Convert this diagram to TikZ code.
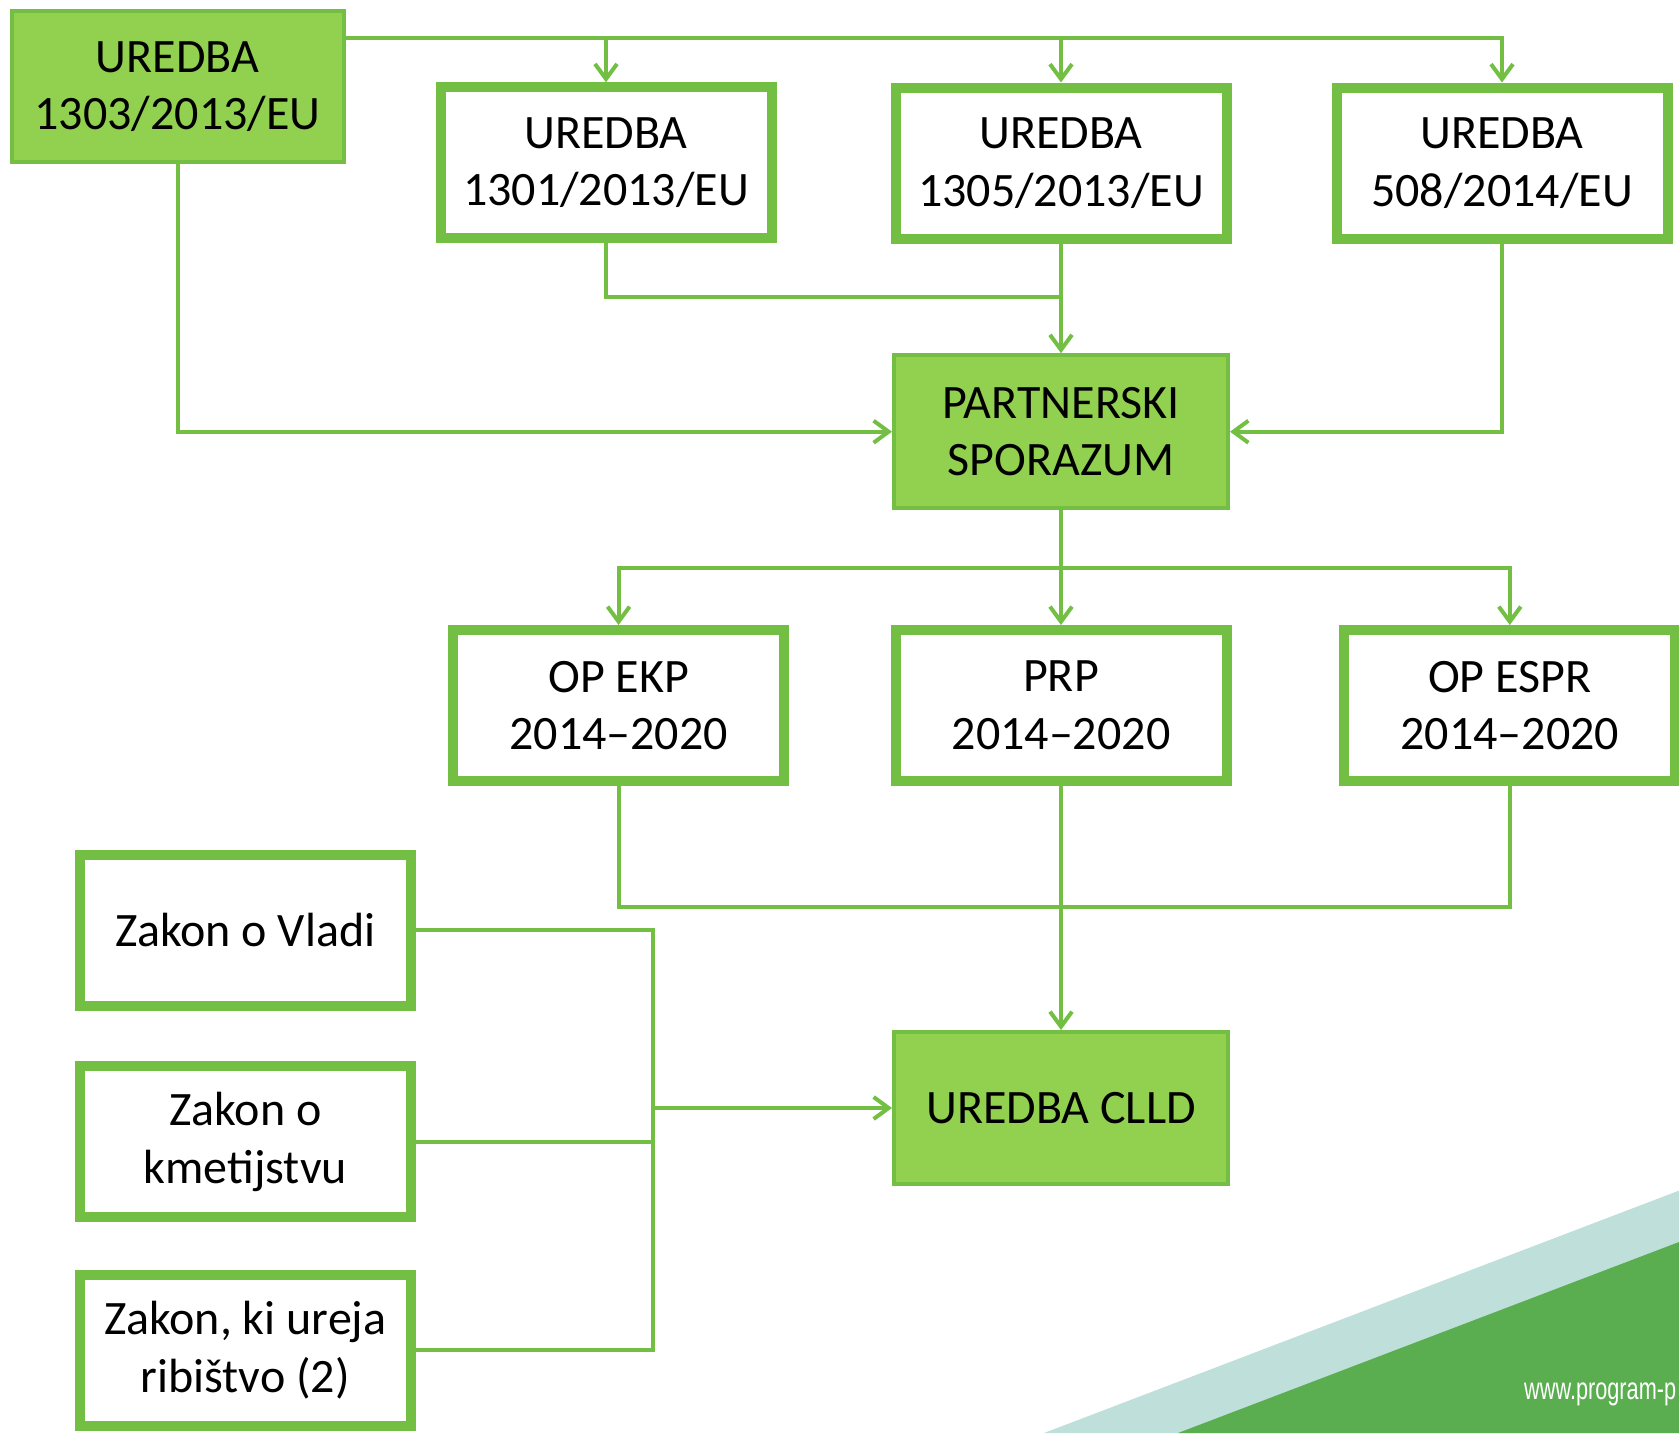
\documentclass[tikz,border=0pt]{standalone}
\usepackage{fontspec}
\setmainfont{Carlito}
\newfontfamily\urlfont[FakeStretch=0.7]{Liberation Sans}
\usetikzlibrary{arrows.meta,calc}
\definecolor{boxgreen}{HTML}{72BF44}
\definecolor{fillgreen}{HTML}{92D050}
\definecolor{bandteal}{HTML}{BEDFDA}
\definecolor{darkgreen}{HTML}{5AAE50}
\tikzset{
  txt/.style={font=\fontsize{48}{57.5}\selectfont, align=center, text=black, inner sep=0pt},
  whitebox/.style={txt, draw=boxgreen, line width=10pt, fill=white, minimum width=331pt, minimum height=151pt},
  greenbox/.style={txt, draw=boxgreen, line width=4pt, fill=fillgreen, minimum width=332pt, minimum height=151pt},
  conn/.style={draw=boxgreen, line width=4pt},
  arr/.style={conn, -{Straight Barb[length=15pt,width=22pt,line width=4pt]}},
}
\begin{document}
\begin{tikzpicture}[x=1pt,y=-1pt]
\useasboundingbox (0,0) rectangle (1679,1433);
% decoration
\fill[bandteal] (1044,1433) -- (1679,1190.6) -- (1679,1433) -- cycle;
\fill[darkgreen] (1178,1433) -- (1679,1242) -- (1679,1433) -- cycle;
\node[anchor=base west, inner sep=0pt, text=white, font=\urlfont\fontsize{31}{36}\selectfont] (url) at (1524,1399) {www.program-p};

% nodes
\node[greenbox] (A) at (177.5,86.8) {UREDBA\\1303/2013/EU};
\node[whitebox] (B) at (606,162.8) {UREDBA\\1301/2013/EU};
\node[whitebox] (C) at (1061,163) {UREDBA\\1305/2013/EU};
\node[whitebox] (D) at (1502,163) {UREDBA\\508/2014/EU};
\node[greenbox, minimum width=334pt, minimum height=153pt] (PS) at (1061,431.7) {PARTNERSKI\\SPORAZUM};
\node[whitebox] (EKP) at (618.6,705.5) {OP EKP\\2014–2020};
\node[whitebox] (PRP) at (1061,705.5) {PRP\\2014–2020};
\node[whitebox] (ESPR) at (1509.8,705.5) {OP ESPR\\2014–2020};
\node[greenbox, minimum width=334pt, minimum height=152pt] (CLLD) at (1061,1108) {UREDBA CLLD};
\node[whitebox] (V) at (245.3,930.4) {Zakon o Vladi};
\node[whitebox] (K) at (245.3,1141.8) {Zakon o\\kmetijstvu};
\node[whitebox] (R) at (245.3,1350) {Zakon, ki ureja\\ribištvo (2)};

% bus coordinates
\coordinate (bus1) at (0,37.7);
\coordinate (bus2) at (0,296.7);
\coordinate (bus3) at (0,568.3);
\coordinate (bus4) at (0,907.3);
\coordinate (bus5) at (652.5,0);

% connectors
\draw[arr] (A.east |- bus1) -| (D.north);
\draw[arr] (B.north |- bus1) -- (B.north);
\draw[arr] (C.north |- bus1) -- (C.north);
\draw[arr] (A.south) |- (PS.west);
\draw[conn] (B.south) |- (C.south |- bus2);
\draw[arr] (C.south) -- (PS.north);
\draw[arr] (D.south) |- (PS.east);
\draw[arr] (PS.south) -- (PRP.north);
\draw[arr] (PS.south |- bus3) -| (EKP.north);
\draw[arr] (PS.south |- bus3) -| (ESPR.north);
\draw[conn] (EKP.south) |- (ESPR.south |- bus4) -- (ESPR.south);
\draw[arr] (PRP.south) -- (CLLD.north);
\draw[conn] (V.east) -| (bus5 |- R.east) -- (R.east);
\draw[conn] (K.east) -- (bus5 |- K.east);
\draw[arr] (bus5 |- CLLD.west) -- (CLLD.west);
\end{tikzpicture}
\end{document}
